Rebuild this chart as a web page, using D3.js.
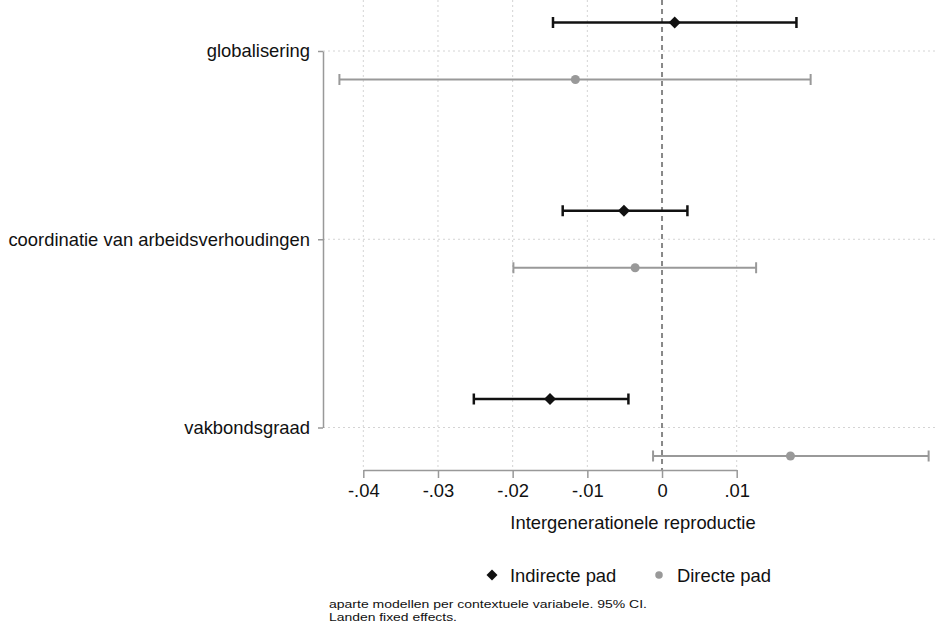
<!DOCTYPE html>
<html>
<head>
<meta charset="utf-8">
<title>coefplot</title>
<script src="https://cdn.jsdelivr.net/npm/d3@7"></script>
<style>
  body { margin: 0; background: #fff; }
  svg { display: block; font-family: "Liberation Sans", Arial, Helvetica, sans-serif; }
</style>
</head>
<body>
<svg width="937" height="634"></svg>
<script>
// data
var categories = ["globalisering", "coordinatie van arbeidsverhoudingen", "vakbondsgraad"];
var indirectEst = [0.0017, -0.0051, -0.0150];
var indirectLo  = [-0.0146, -0.0133, -0.0252];
var indirectHi  = [0.0180, 0.0034, -0.0045];
var directEst   = [-0.0116, -0.0036, 0.0172];
var directLo    = [-0.0432, -0.0199, -0.0012];
var directHi    = [0.0199, 0.0126, 0.0357];
var xTicks = [-0.04, -0.03, -0.02, -0.01, 0, 0.01];
var seriesNames = ["Indirecte pad", "Directe pad"];
var note = ["aparte modellen per contextuele variabele. 95% CI.", "Landen fixed effects."];
var noteWidths = [318, 128];

var svg = d3.select("svg");
var W = 937, H = 634;
var axisX = 323, axisY = 470;

var x = d3.scaleLinear().domain([-0.04, 0.01]).range([363.3, 736.7]);
var y = d3.scalePoint().domain(categories).range([51, 427.5]);
var off = 28.5;

function fmt(d) {
  if (d === 0) return "0";
  var s = Math.abs(d).toFixed(2).replace(/^0/, "");
  return (d < 0 ? "-" : "") + s;
}

// square diamond (rotated square)
function marker(type, size) {
  if (type === "diamond") {
    var r = Math.sqrt(size) / Math.SQRT2;
    return "M0," + (-r) + "L" + r + ",0L0," + r + "L" + (-r) + ",0Z";
  }
  return d3.symbol().type(d3.symbolCircle).size(size)();
}

// grid
var grid = svg.append("g");
grid.selectAll(".vg").data(xTicks.filter(function(d){ return d !== 0; })).enter().append("line")
  .attr("x1", function(d){ return x(d); }).attr("x2", function(d){ return x(d); })
  .attr("y1", 0).attr("y2", axisY)
  .attr("stroke", "#d4d4d4").attr("stroke-width", 1).attr("stroke-dasharray", "2,3");
grid.selectAll(".hg").data(categories).enter().append("line")
  .attr("x1", axisX).attr("x2", W)
  .attr("y1", function(d){ return y(d); }).attr("y2", function(d){ return y(d); })
  .attr("stroke", "#d4d4d4").attr("stroke-width", 1).attr("stroke-dasharray", "2,3");

// zero reference line
svg.append("line")
  .attr("x1", x(0)).attr("x2", x(0)).attr("y1", 0).attr("y2", axisY)
  .attr("stroke", "#888").attr("stroke-width", 2).attr("stroke-dasharray", "5,4");

// x axis
var gx = svg.append("g")
  .attr("transform", "translate(0," + axisY + ")")
  .call(d3.axisBottom(x).tickValues(xTicks).tickFormat(fmt).tickSize(8).tickSizeOuter(0).tickPadding(6));
gx.select(".domain").attr("stroke", "#999").attr("stroke-width", 1.5);
gx.selectAll(".tick line").attr("stroke", "#999").attr("stroke-width", 1.5);
gx.selectAll(".tick text").attr("fill", "#111").style("font-size", "18.4px");

// y axis
var gy = svg.append("g")
  .attr("transform", "translate(" + axisX + ",0)")
  .call(d3.axisLeft(y).tickSize(5).tickSizeOuter(0).tickPadding(8));
gy.select(".domain").attr("stroke", "#999").attr("stroke-width", 1.5);
gy.selectAll(".tick line").attr("stroke", "#999").attr("stroke-width", 1.5);
gy.selectAll(".tick text").attr("fill", "#111").style("font-size", "18.4px");

// series
var series = [
  {est: indirectEst, lo: indirectLo, hi: indirectHi, dy: -off, color: "#111", lw: 2.5, marker: "diamond", size: 72},
  {est: directEst, lo: directLo, hi: directHi, dy: off, color: "#999", lw: 2, marker: "circle", size: 64}
];

series.forEach(function(s) {
  var g = svg.append("g");
  categories.forEach(function(c, i) {
    var yy = y(c) + s.dy;
    g.append("line")
      .attr("x1", x(s.lo[i])).attr("x2", x(s.hi[i])).attr("y1", yy).attr("y2", yy)
      .attr("stroke", s.color).attr("stroke-width", s.lw);
    [s.lo[i], s.hi[i]].forEach(function(v) {
      g.append("line")
        .attr("x1", x(v)).attr("x2", x(v)).attr("y1", yy - 5.5).attr("y2", yy + 5.5)
        .attr("stroke", s.color).attr("stroke-width", s.lw);
    });
    g.append("path")
      .attr("transform", "translate(" + x(s.est[i]) + "," + yy + ")")
      .attr("d", marker(s.marker, s.size))
      .attr("fill", s.color);
  });
});

// axis title
svg.append("text")
  .attr("x", 633).attr("y", 529)
  .attr("text-anchor", "middle").attr("fill", "#111").style("font-size", "18.4px")
  .text("Intergenerationele reproductie");

// legend
var legX = [492, 659];
seriesNames.forEach(function(n, i) {
  var s = series[i];
  svg.append("path")
    .attr("transform", "translate(" + legX[i] + ",575)")
    .attr("d", marker(s.marker, i === 0 ? 60 : 44))
    .attr("fill", s.color);
  svg.append("text")
    .attr("x", legX[i] + 18).attr("y", 581.5)
    .attr("fill", "#111").style("font-size", "18.4px")
    .text(n);
});

// note
svg.selectAll(".note").data(note).enter().append("text")
  .attr("x", 329).attr("y", function(d, i){ return 608 + i * 13; })
  .attr("fill", "#111").style("font-size", "11px")
  .attr("textLength", function(d, i){ return noteWidths[i]; })
  .attr("lengthAdjust", "spacingAndGlyphs")
  .text(function(d){ return d; });
</script>
</body>
</html>
